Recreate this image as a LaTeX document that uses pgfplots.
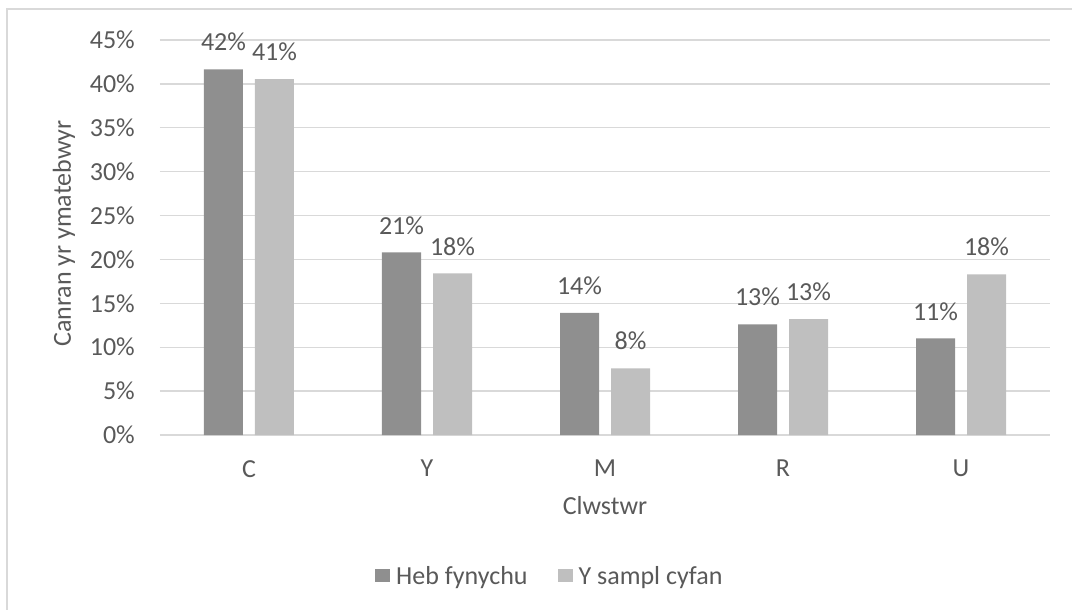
\documentclass[border=0pt]{standalone}
\usepackage{pgfplots}
\pgfplotsset{compat=1.18}
\usepackage{fontspec}
\setmainfont{Carlito}
\definecolor{darkbar}{HTML}{8F8F8F}
\definecolor{lightbar}{HTML}{BFBFBF}
\definecolor{txt}{HTML}{595959}
\definecolor{gridc}{HTML}{D9D9D9}
\begin{document}
\begin{tikzpicture}
\path[use as bounding box] (-160bp,-175bp) rectangle (912bp,435bp);
\draw[gridc, line width=1.5bp] (-153bp,-176bp) -- (-153bp,426bp) -- (913bp,426bp);
\begin{axis}[
  at={(0,0)}, anchor=south west,
  scale only axis, width=890bp, height=395bp,
  ybar=12bp, bar width=39bp,
  xmin=-0.5, xmax=4.5, ymin=0, ymax=45,
  xtick=data, xticklabels={C,Y,M,R,U},
  ytick={0,5,...,45},
  yticklabel={\pgfmathprintnumber{\tick}\%},
  /pgf/number format/assume math mode=true,
  axis line style={draw=none},
  major tick length=0pt,
  ymajorgrids, grid style={gridc, line width=1.3bp},
  font=\fontsize{26bp}{31bp}\selectfont,
  every tick label/.append style={text=txt, font=\fontsize{26bp}{31bp}\selectfont},
  yticklabel style={anchor=east, inner sep=0pt, xshift=-25bp},
  xticklabel style={anchor=north, inner sep=0pt, yshift=-25bp},
  xlabel={Clwstwr},
  xlabel style={at={(axis description cs:0.5,0)}, anchor=north, inner sep=0pt, yshift=-61bp, text=txt},
  ylabel={Canran yr ymatebwyr},
  ylabel style={at={(axis description cs:-0.108,0.51)}, anchor=center, inner sep=0pt, text=txt},
  nodes near coords={\pgfmathprintnumber[fixed,precision=0]{\pgfplotspointmeta}\%},
  nodes near coords style={anchor=south, inner sep=0pt, yshift=18bp, text=txt, font=\fontsize{26bp}{31bp}\selectfont},
  legend style={at={(axis description cs:0.438,-0.357)}, anchor=center, draw=none, fill=none,
    legend columns=2, text=txt, font=\fontsize{26bp}{31bp}\selectfont,
    /tikz/every odd column/.append style={column sep=4bp},
    /tikz/every even column/.append style={column sep=28bp}},
  legend image code/.code={\fill[#1] (0bp,-6bp) rectangle (15bp,7bp);},
]
\addplot[fill=darkbar, draw=none] coordinates {(0,41.66) (1,20.8) (2,13.9) (3,12.6) (4,11.0)};
\addplot[fill=lightbar, draw=none] coordinates {(0,40.55) (1,18.4) (2,7.6) (3,13.2) (4,18.3)};
\legend{Heb fynychu, Y sampl cyfan}
\end{axis}
\end{tikzpicture}
\end{document}
